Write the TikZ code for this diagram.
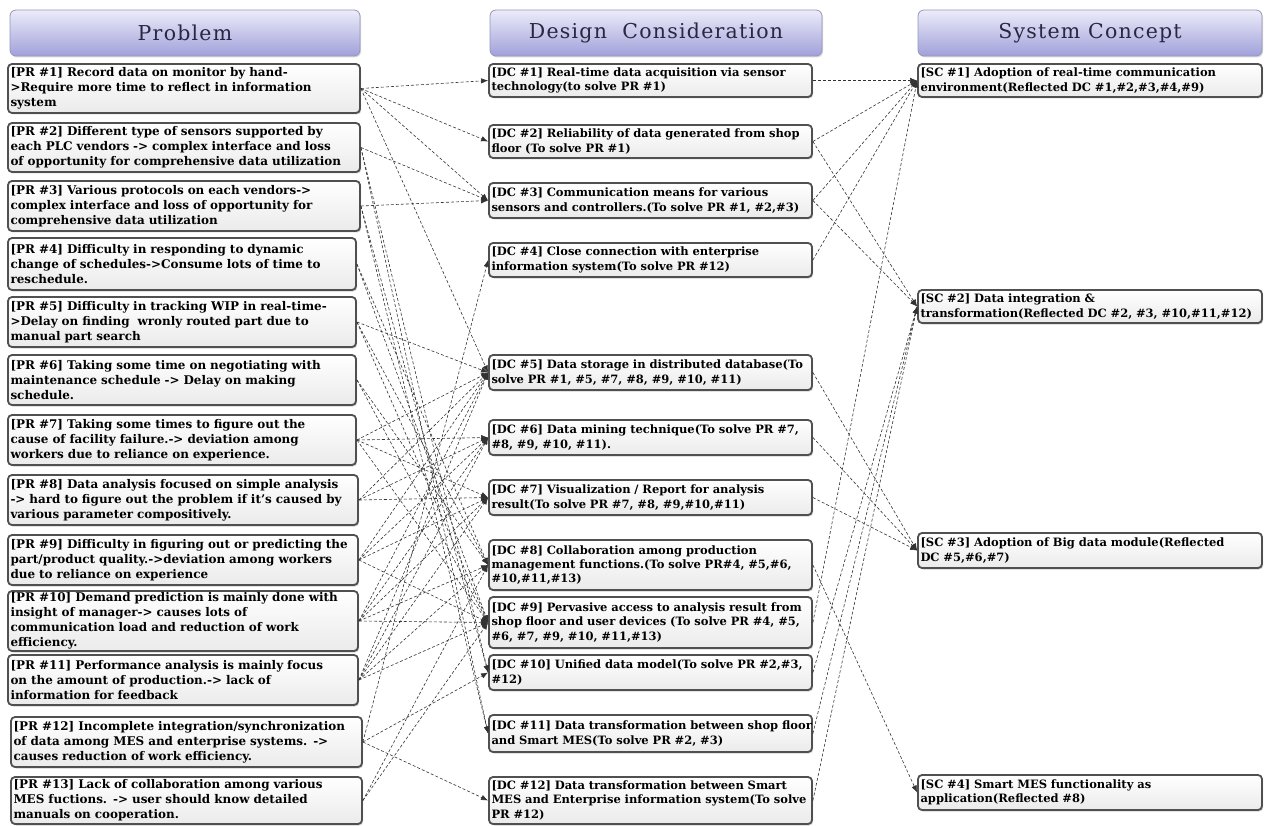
\documentclass[tikz,border=0pt]{standalone}
\usepackage{fontspec}
\setmainfont{DejaVu Serif}
\newfontfamily\headfont[LetterSpace=6]{DejaVu Serif}
\usetikzlibrary{arrows.meta,shadows}

\tikzset{
  cell/.style={draw={rgb,255:red,80;green,80;blue,80}, line width=1.8pt,
    rounded corners=4pt, top color=white, bottom color=black!8,
    drop shadow={shadow xshift=1.2pt, shadow yshift=-1.5pt, opacity=0.35},
    inner xsep=2.5pt, inner ysep=1pt, align=left,
    font=\bfseries\fontsize{11.5}{14.6}\selectfont, text=black},
  prcell/.style={font=\bfseries\fontsize{11.95}{15}\selectfont},
  dccell/.style={font=\bfseries\fontsize{11.5}{14.4}\selectfont},
  sccell/.style={font=\bfseries\fontsize{11.5}{14.4}\selectfont},
  header/.style={draw={rgb,255:red,150;green,150;blue,185}, line width=0.8pt,
    rounded corners=6pt,
    top color={rgb,255:red,236;green,236;blue,250},
    bottom color={rgb,255:red,160;green,160;blue,218},
    drop shadow={shadow xshift=1pt, shadow yshift=-1.5pt, opacity=0.3},
    font=\headfont\fontsize{20.5}{24}\selectfont,
    text={rgb,255:red,40;green,40;blue,65}},
  link/.style={densely dashed, line width=0.6pt, draw=black!80,
    -{Latex[length=7pt,width=5.5pt]}}
}

% \cellbox{style}{name}{x1}{y1}{x2}{y2}{text}
\newcommand\cellbox[7]{%
  \pgfmathsetmacro\cbw{#5-#3}%
  \pgfmathsetmacro\cbh{#6-#4}%
  \pgfmathsetmacro\cbt{#5-#3-5}%
  \node[cell, #1, minimum width=\cbw pt, minimum height=\cbh pt, text width=\cbt pt]
    (#2) at ({(#3+#5)/2},{(#4+#6)/2}) {#7};}
\newcommand\headbox[6]{%
  \pgfmathsetmacro\cbw{#4-#2}%
  \pgfmathsetmacro\cbh{#5-#3}%
  \node[header, minimum width=\cbw pt, minimum height=\cbh pt]
    (#1) at ({(#2+#4)/2},{(#3+#5)/2}) {#6};}

\begin{document}
\begin{tikzpicture}[x=1pt,y=-1pt]
\useasboundingbox (0,0) rectangle (1265,826);

% column headers
\headbox{hpr}{10}{10}{360}{56}{Problem}
\headbox{hdc}{490}{10}{822}{56}{Design\ \ Consideration}
\headbox{hsc}{918}{10}{1262}{56}{System Concept}

% problems
\cellbox{prcell}{pr1}{8}{64}{360}{113}{[PR \#1] Record data on monitor by hand-\\>Require more time to reflect in information\\system}
\cellbox{prcell}{pr2}{8}{123}{360}{172}{[PR \#2] Different type of sensors supported by\\each PLC vendors -> complex interface and loss\\of opportunity for comprehensive data utilization}
\cellbox{prcell}{pr3}{8}{181}{360}{231}{[PR \#3] Various protocols on each vendors->\\complex interface and loss of opportunity for\\comprehensive data utilization}
\cellbox{prcell}{pr4}{8}{238}{356}{290}{[PR \#4] Difficulty in responding to dynamic\\change of schedules->Consume lots of time to\\reschedule.}
\cellbox{prcell}{pr5}{8}{297}{356}{347}{[PR \#5] Difficulty in tracking WIP in real-time-\\>Delay on finding \ wronly routed part due to\\manual part search}
\cellbox{prcell}{pr6}{8}{355}{356}{405}{[PR \#6] Taking some time on negotiating with\\maintenance schedule -> Delay on making\\schedule.}
\cellbox{prcell}{pr7}{8}{415}{356}{465}{[PR \#7] Taking some times to figure out the\\cause of facility failure.-> deviation among\\workers due to reliance on experience.}
\cellbox{prcell}{pr8}{8}{475}{358}{525}{[PR \#8] Data analysis focused on simple analysis\\-> hard to figure out the problem if it's caused by\\various parameter compositively.}
\cellbox{prcell}{pr9}{8}{535}{358}{585}{[PR \#9] Difficulty in figuring out or predicting the\\part/product quality.->deviation among workers\\due to reliance on experience}
\cellbox{prcell}{pr10}{8}{591}{358}{651}{[PR \#10] Demand prediction is mainly done with\\insight of manager-> causes lots of\\communication load and reduction of work\\efficiency.}
\cellbox{prcell}{pr11}{8}{655}{358}{705}{[PR \#11] Performance analysis is mainly focus\\on the amount of production.-> lack of\\information for feedback}
\cellbox{prcell}{pr12}{11}{717}{362}{767}{[PR \#12] Incomplete integration/synchronization\\of data among MES and enterprise systems. ->\\causes reduction of work efficiency.}
\cellbox{prcell}{pr13}{11}{777}{362}{824}{[PR \#13] Lack of collaboration among various\\MES fuctions. -> user should know detailed\\manuals on cooperation.}

% design considerations
\cellbox{dccell}{dc1}{489}{64}{812}{97}{[DC \#1] Real-time data acquisition via sensor\\technology(to solve PR \#1)}
\cellbox{dccell}{dc2}{489}{125}{812}{158}{[DC \#2] Reliability of data generated from shop\\floor (To solve PR \#1)}
\cellbox{dccell}{dc3}{489}{183}{812}{218}{[DC \#3] Communication means for various\\sensors and controllers.(To solve PR \#1, \#2,\#3)}
\cellbox{dccell}{dc4}{489}{243}{812}{277}{[DC \#4] Close connection with enterprise\\information system(To solve PR \#12)}
\cellbox{dccell}{dc5}{489}{355}{812}{390}{[DC \#5] Data storage in distributed database(To\\solve PR \#1, \#5, \#7, \#8, \#9, \#10, \#11)}
\cellbox{dccell}{dc6}{489}{420}{812}{455}{[DC \#6] Data mining technique(To solve PR \#7,\\\#8, \#9, \#10, \#11).}
\cellbox{dccell}{dc7}{489}{480}{812}{515}{[DC \#7] Visualization / Report for analysis\\result(To solve PR \#7, \#8, \#9,\#10,\#11)}
\cellbox{dccell}{dc8}{489}{540}{812}{590}{[DC \#8] Collaboration among production\\management functions.(To solve PR\#4, \#5,\#6,\\\#10,\#11,\#13)}
\cellbox{dccell}{dc9}{489}{597}{812}{648}{[DC \#9] Pervasive access to analysis result from\\shop floor and user devices (To solve PR \#4, \#5,\\\#6, \#7, \#9, \#10, \#11,\#13)}
\cellbox{dccell}{dc10}{489}{655}{812}{690}{[DC \#10] Unified data model(To solve PR \#2,\#3,\\\#12)}
\cellbox{dccell}{dc11}{489}{715}{812}{752}{\mbox{[DC \#11] Data transformation between shop floor}\\and Smart MES(To solve PR \#2, \#3)}
\cellbox{dccell}{dc12}{489}{777}{812}{824}{[DC \#12] Data transformation between Smart\\MES and Enterprise information system(To solve\\PR \#12)}

% system concepts
\cellbox{sccell}{sc1}{918}{64}{1262}{97}{[SC \#1] Adoption of real-time communication\\environment(Reflected DC \#1,\#2,\#3,\#4,\#9)}
\cellbox{sccell}{sc2}{918}{290}{1262}{323}{[SC \#2] Data integration \&\\transformation(Reflected DC \#2, \#3, \#10,\#11,\#12)}
\cellbox{sccell}{sc3}{918}{533}{1262}{568}{[SC \#3] Adoption of Big data module(Reflected\\DC \#5,\#6,\#7)}
\cellbox{sccell}{sc4}{918}{775}{1262}{810}{[SC \#4] Smart MES functionality as\\application(Reflected \#8)}

% problem -> design consideration
\foreach \p/\d in {1/1, 1/2, 1/3, 2/3, 3/3, 12/4,
    1/5, 5/5, 7/5, 8/5, 9/5, 10/5, 11/5,
    7/6, 8/6, 9/6, 10/6, 11/6,
    7/7, 8/7, 9/7, 10/7, 11/7,
    4/8, 5/8, 6/8, 10/8, 11/8, 13/8,
    4/9, 5/9, 6/9, 7/9, 9/9, 10/9, 11/9, 13/9,
    2/10, 3/10, 12/10, 2/11, 3/11, 12/12}
  \draw[link] (pr\p.east) -- (dc\d.west);

% design consideration -> system concept
\foreach \d/\s in {1/1, 2/1, 3/1, 4/1, 9/1,
    2/2, 3/2, 10/2, 11/2, 12/2,
    5/3, 6/3, 7/3, 8/4}
  \draw[link] (dc\d.east) -- (sc\s.west);
\end{tikzpicture}
\end{document}
